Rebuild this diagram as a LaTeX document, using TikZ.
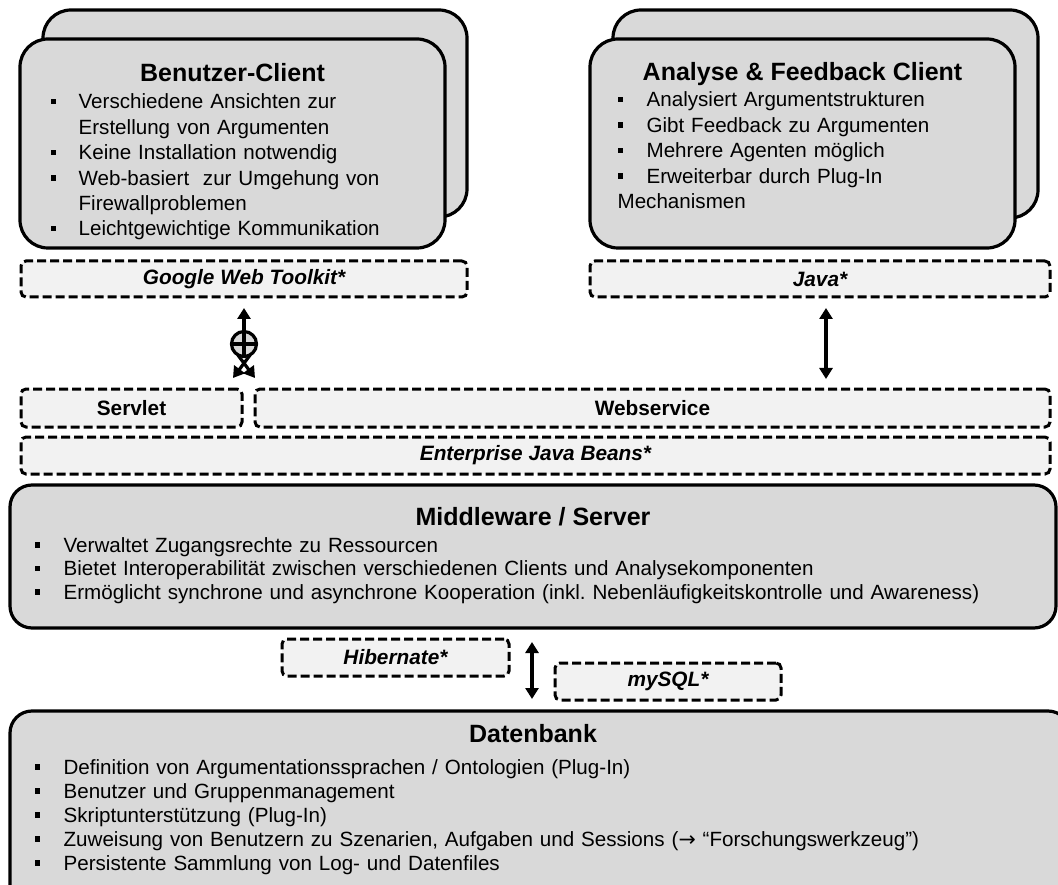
\documentclass[tikz,border=0pt]{standalone}
\usepackage{fontspec}
\setmainfont{Liberation Sans}
\newfontfamily\symfont{DejaVu Sans}
\usetikzlibrary{arrows.meta}
\definecolor{cardgray}{HTML}{D9D9D9}
\definecolor{layergray}{HTML}{F2F2F2}
\newcommand{\bul}[1][28pt]{\makebox[#1][l]{\rule[4.5pt]{5.5pt}{5.5pt}}\ignorespaces}
\newcommand{\ind}[1][28pt]{\hspace*{#1}\ignorespaces}
\frenchspacing

\begin{document}
\begin{tikzpicture}[x=1pt,y=-1pt,line width=3.2pt,
  card/.style={draw,fill=cardgray,rounded corners=28pt,inner sep=0,outer sep=0},
  techbox/.style={draw,fill=layergray,line width=3pt,dash pattern=on 9pt off 4pt,rounded corners=5pt,inner sep=0,outer sep=0},
  lbl/.style={font=\fontsize{20.8}{24}\selectfont\bfseries\itshape},
  lblup/.style={font=\fontsize{20.8}{24}\selectfont\bfseries},
  ttl/.style={anchor=base,font=\fontsize{25}{29}\selectfont\bfseries},
  items/.style={anchor=base west,inner sep=0,text width=#1,align=left,font=\fontsize{20.6}{25.4}\selectfont\frenchspacing},
  dbl/.style={{Triangle[length=11pt,width=13pt]}-{Triangle[length=11pt,width=13pt]}},
  sgl/.style={-{Triangle[length=11pt,width=13pt]}}]
\useasboundingbox (0,0) rectangle (1058,885);

\node[card,minimum width=424pt,minimum height=207pt] (bcback) at (255,113.5) {};
\node[card,minimum width=425pt,minimum height=209pt] (bc) at (232.5,143.5) {};
\node[card,minimum width=425pt,minimum height=208pt] (afback) at (825.5,114) {};
\node[card,minimum width=425pt,minimum height=209pt] (af) at (802.5,143.5) {};

\node[ttl] (bctitle) at (232.5,82) {Benutzer-Client};
\node[items=390pt] (bclist) at (49,109) {\bul Verschiedene Ansichten zur\\
  \ind Erstellung von Argumenten\\
  \bul Keine Installation notwendig\\
  \bul Web-basiert\ \ zur Umgehung von\\
  \ind Firewallproblemen\\
  \bul Leichtgewichtige Kommunikation};
\node[ttl] (aftitle) at (802.5,81) {Analyse \& Feedback Client};
\node[items=390pt] (aflist) at (616,107) {\bul[29pt] Analysiert Argumentstrukturen\\
  \bul[29pt] Gibt Feedback zu Argumenten\\
  \bul[29pt] Mehrere Agenten möglich\\
  \bul[29pt] Erweiterbar durch Plug-In\\
  Mechanismen};

\node[techbox,lbl,minimum width=446pt,minimum height=36pt] (gwt) at (244,279) {Google Web Toolkit*};
\node[techbox,lbl,minimum width=460pt,minimum height=36pt] (java) at (820,279) {Java*};
\node[techbox,lblup,minimum width=221pt,minimum height=38pt] (sv) at (131.5,408) {Servlet};
\node[techbox,lblup,minimum width=795pt,minimum height=38pt] (ws) at (652.5,408) {Webservice};
\node[techbox,lbl,minimum width=1029pt,minimum height=37pt] (ejb) at (535.5,455.5) {Enterprise Java Beans*};

\node[card,rounded corners=22pt,minimum width=1046pt,minimum height=143pt] (mw) at (533,556.5) {};
\node[ttl] (mwtitle) at (533,525) {Middleware / Server};
\node[items=1000pt,font=\fontsize{20.6}{23.5}\selectfont] (mwlist) at (33,552) {\bul[29pt] Verwaltet Zugangsrechte zu Ressourcen\\
  \bul[29pt] Bietet Interoperabilität zwischen verschiedenen Clients und Analysekomponenten\\
  \bul[29pt] Ermöglicht synchrone und asynchrone Kooperation (inkl. Nebenläufigkeitskontrolle und Awareness)};

\node[techbox,lbl,minimum width=227pt,minimum height=37pt] (hib) at (395.5,657.5) {Hibernate*};
\node[techbox,lbl,minimum width=226pt,minimum height=37pt] (sql) at (668,681.5) {mySQL*};

\node[card,rounded corners=22pt,minimum width=1060pt,minimum height=209pt] (db) at (540,815.5) {};
\node[ttl] (dbtitle) at (533,742) {Datenbank};
\node[items=1000pt,font=\fontsize{20.6}{24}\selectfont] (dblist) at (33,774) {\bul[29pt] Definition von Argumentationssprachen / Ontologien (Plug-In)\\
  \bul[29pt] Benutzer und Gruppenmanagement\\
  \bul[29pt] Skriptunterstützung (Plug-In)\\
  \bul[29pt] Zuweisung von Benutzern zu Szenarien, Aufgaben und Sessions ({\symfont →} “Forschungswerkzeug”)\\
  \bul[29pt] Persistente Sammlung von Log- und Datenfiles};

\node[circle,draw,fill=cardgray,minimum size=25pt,inner sep=0,outer sep=0] (plus) at (244,344) {};
\draw (plus.north) -- (plus.south) (plus.west) -- (plus.east);
\coordinate (fl) at (233,378);
\coordinate (fr) at (255,378);
\coordinate (rx) at (826,0);
\coordinate (hx) at (532,0);
\draw[sgl,shorten >=11pt] (plus.north) -- (gwt.south -| plus);
\draw[sgl] (plus.-60) -- (fl);
\draw[sgl] (plus.-120) -- (fr);
\draw[dbl,shorten <=11pt,shorten >=10pt] (java.south -| rx) -- (ws.north -| rx);
\draw[dbl,shorten <=14pt,shorten >=12pt] (mw.south -| hx) -- (db.north -| hx);
\end{tikzpicture}
\end{document}
